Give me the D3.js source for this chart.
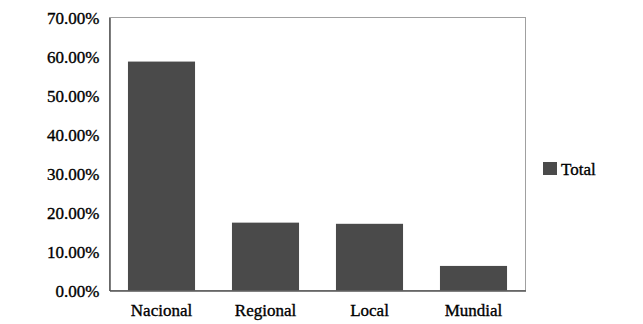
<!DOCTYPE html>
<html>
<head>
<meta charset="utf-8">
<script src="https://cdn.jsdelivr.net/npm/d3@7"></script>
<style>
  body { margin: 0; background: #fff; }
  text { font-family: "Liberation Serif", "Times New Roman", serif; fill: #000; }
</style>
</head>
<body>
<div id="chart"></div>
<script>
// Datos
const categories = ['Nacional', 'Regional', 'Local', 'Mundial'];
const totals = [58.7, 17.4, 17.1, 6.3];
const yTicks = [0, 10, 20, 30, 40, 50, 60, 70];
const seriesName = 'Total';

const W = 643, H = 324;
const margin = { top: 17.5, right: 117.5, bottom: 33.5, left: 109.5 };
const width = W - margin.left - margin.right;
const height = H - margin.top - margin.bottom;

const svg = d3.select('#chart')
  .append('svg')
  .attr('width', W)
  .attr('height', H);

const g = svg.append('g')
  .attr('transform', `translate(${margin.left},${margin.top})`);

const x = d3.scaleBand()
  .domain(categories)
  .range([0, width])
  .paddingInner(0.355)
  .paddingOuter(0.1775);

const y = d3.scaleLinear()
  .domain([0, 70])
  .range([height, 0]);

// Marco del área de trazado
g.append('rect')
  .attr('x', 0).attr('y', 0)
  .attr('width', width).attr('height', height)
  .attr('fill', 'none')
  .attr('stroke', '#a0a0a0')
  .attr('stroke-width', 1);

// Barras
g.selectAll('.bar')
  .data(categories.map((c, i) => ({ c, v: totals[i] })))
  .enter()
  .append('rect')
  .attr('class', 'bar')
  .attr('x', d => x(d.c))
  .attr('y', d => y(d.v))
  .attr('width', x.bandwidth())
  .attr('height', d => height - y(d.v))
  .attr('fill', '#4a4a4a');

// Eje Y
const yAxis = g.append('g')
  .call(d3.axisLeft(y).tickValues(yTicks).tickSize(0).tickPadding(10)
    .tickFormat(d => d.toFixed(2) + '%'));
yAxis.select('.domain').attr('stroke', '#555').attr('stroke-width', 1.5);
yAxis.selectAll('text')
  .style('font-size', '17px')
  .style('stroke', '#000')
  .style('stroke-width', 0.35)
  .attr('dy', '0.35em');

// Eje X
const xAxis = g.append('g')
  .attr('transform', `translate(0,${height})`)
  .call(d3.axisBottom(x).tickSize(0).tickPadding(13));
xAxis.select('.domain').attr('stroke', '#555').attr('stroke-width', 1.5);
xAxis.selectAll('text')
  .style('font-size', '17px')
  .style('stroke', '#000')
  .style('stroke-width', 0.35);

// Leyenda
const legend = svg.append('g')
  .attr('transform', 'translate(543,162)');
legend.append('rect')
  .attr('width', 14).attr('height', 13)
  .attr('fill', '#4a4a4a');
legend.append('text')
  .attr('x', 18).attr('y', 13)
  .style('font-size', '17px')
  .style('stroke', '#000')
  .style('stroke-width', 0.35)
  .text(seriesName);
</script>
</body>
</html>
